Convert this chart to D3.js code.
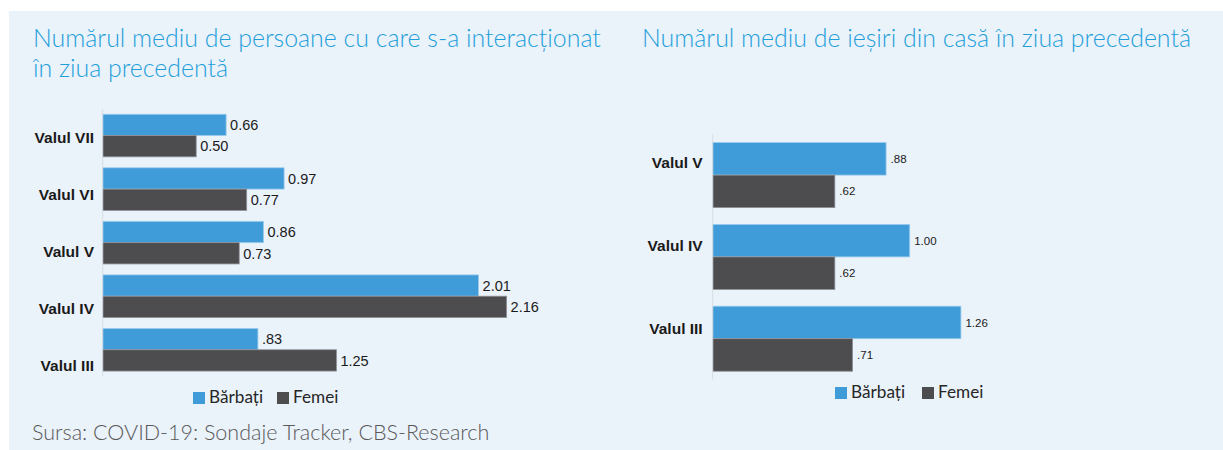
<!DOCTYPE html>
<html>
<head>
<meta charset="utf-8">
<script src="https://cdn.jsdelivr.net/npm/d3@7"></script>
<style>
  body { margin: 0; background: #fff; }
  svg { display: block; }
</style>
</head>
<body>
<svg id="chart"></svg>
<script>
// left chart: persons interacted with
const wavesLeft = ["Valul VII", "Valul VI", "Valul V", "Valul IV", "Valul III"];
const menLeft = [0.66, 0.97, 0.86, 2.01, 0.83];
const womenLeft = [0.50, 0.77, 0.73, 2.16, 1.25];
const menLeftLabels = ["0.66", "0.97", "0.86", "2.01", ".83"];
const womenLeftLabels = ["0.50", "0.77", "0.73", "2.16", "1.25"];

// right chart: times out of the house
const wavesRight = ["Valul V", "Valul IV", "Valul III"];
const menRight = [0.88, 1.00, 1.26];
const womenRight = [0.62, 0.62, 0.71];
const menRightLabels = [".88", "1.00", "1.26"];
const womenRightLabels = [".62", ".62", ".71"];

const seriesNames = ["Bărbați", "Femei"];
const colors = ["#409CD8", "#4D4D4F"];
const strokes = ["#9CCBEC", "#8E9096"];

const width = 1223, height = 450;
const svg = d3.select("#chart").attr("width", width).attr("height", height);

// panel background
svg.append("rect")
    .attr("x", 9).attr("y", 11)
    .attr("width", width - 9).attr("height", height - 11)
    .attr("fill", "#EAF2FA");

const titleFont = "Lato, 'Open Sans', sans-serif";

function title(lines, x) {
    const t = svg.append("text")
        .attr("x", x).attr("y", 47)
        .style("font-family", titleFont)
        .style("font-weight", 300)
        .style("font-size", "24.9px")
        .style("fill", "#1E9FDA");
    lines.forEach((l, i) => {
        t.append("tspan").attr("x", x).attr("dy", i ? 29.5 : 0).text(l);
    });
}

title(["Numărul mediu de persoane cu care s-a interacționat", "în ziua precedentă"], 33);
title(["Numărul mediu de ieșiri din casă în ziua precedentă"], 642);

function barChart(cfg) {
    const g = svg.append("g");
    const y = d3.scaleBand()
        .domain(cfg.cats)
        .range(cfg.yRange)
        .paddingInner(0.205)
        .paddingOuter(0.1);
    const sub = d3.scaleBand()
        .domain([0, 1])
        .range([0, y.bandwidth()]);
    const x = d3.scaleLinear()
        .domain([0, 1])
        .range([cfg.x0, cfg.x0 + cfg.unit]);

    const rows = cfg.cats.map((c, i) => ({
        cat: c,
        vals: [cfg.men[i], cfg.women[i]],
        labels: [cfg.menLabels[i], cfg.womenLabels[i]]
    }));

    const groups = g.selectAll("g.grp")
        .data(rows)
        .enter().append("g")
        .attr("class", "grp")
        .attr("transform", d => `translate(0, ${y(d.cat)})`);

    const bars = groups.selectAll("g.bar")
        .data(d => d.vals.map((v, k) => ({ v: v, k: k, label: d.labels[k] })))
        .enter().append("g").attr("class", "bar");

    bars.append("rect")
        .attr("x", x(0))
        .attr("y", d => sub(d.k))
        .attr("width", d => x(d.v) - x(0))
        .attr("height", sub.bandwidth())
        .attr("fill", d => colors[d.k])
        .attr("stroke", d => strokes[d.k])
        .attr("stroke-width", 0.8);

    bars.append("text")
        .attr("x", d => x(d.v) + cfg.labelGap)
        .attr("y", d => sub(d.k) + sub.bandwidth() / 2)
        .attr("dy", "0.36em")
        .style("font-family", "Arial, 'Liberation Sans', sans-serif")
        .style("font-size", cfg.labelSize + "px")
        .style("fill", "#1a1a1a")
        .text(d => d.label);

    // axis line
    g.append("line")
        .attr("x1", x(0)).attr("x2", x(0))
        .attr("y1", cfg.yRange[0]).attr("y2", cfg.yRange[1])
        .attr("stroke", "#D6DCE3")
        .attr("stroke-width", 1);

    // category labels
    const yl = d3.scalePoint().domain(cfg.cats).range(cfg.labelRange);
    g.selectAll("text.cat")
        .data(cfg.cats)
        .enter().append("text")
        .attr("class", "cat")
        .attr("x", cfg.catX)
        .attr("y", d => yl(d))
        .attr("dy", "0.36em")
        .attr("text-anchor", "end")
        .style("font-family", "Arial, 'Liberation Sans', sans-serif")
        .style("font-weight", "bold")
        .style("font-size", "15.5px")
        .style("fill", "#1a1a1a")
        .text(d => d);

    // legend
    const lg = g.append("g").attr("transform", `translate(${cfg.legend[0]}, ${cfg.legend[1]})`);
    const items = lg.selectAll("g").data(seriesNames).enter().append("g")
        .attr("transform", (d, i) => `translate(${cfg.legendXs[i]}, 0)`);
    items.append("rect")
        .attr("x", 0).attr("y", -11)
        .attr("width", 12).attr("height", 12)
        .attr("fill", (d, i) => colors[i]);
    items.append("text")
        .attr("x", 16).attr("y", 0)
        .style("font-family", titleFont)
        .style("font-size", "17.2px")
        .style("fill", "#262626")
        .text(d => d);
}

barChart({
    cats: wavesLeft, men: menLeft, women: womenLeft,
    menLabels: menLeftLabels, womenLabels: womenLeftLabels,
    yRange: [108.9, 376.4], x0: 102.7, unit: 187,
    labelGap: 4, labelSize: 14.5,
    labelRange: [137.7, 365], catX: 94,
    legend: [193, 403], legendXs: [0, 84]
});

barChart({
    cats: wavesRight, men: menRight, women: womenRight,
    menLabels: menRightLabels, womenLabels: womenRightLabels,
    yRange: [134.4, 379.4], x0: 712.7, unit: 197,
    labelGap: 4.5, labelSize: 11.5,
    labelRange: [162.7, 328.3], catX: 702.7,
    legend: [835, 398], legendXs: [0, 87]
});

// source
svg.append("text")
    .attr("x", 32).attr("y", 439.5)
    .style("font-family", titleFont)
    .style("font-weight", 300)
    .style("font-size", "21.5px")
    .style("fill", "#595959")
    .text("Sursa: COVID-19: Sondaje Tracker, CBS-Research");
</script>
</body>
</html>
